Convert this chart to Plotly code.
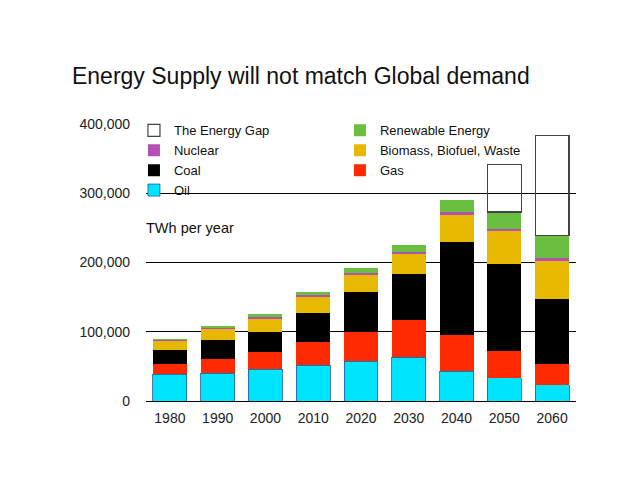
import plotly.graph_objects as go

# Jahre und Werte (TWh pro Jahr)
years = ["1980", "1990", "2000", "2010", "2020", "2030", "2040", "2050", "2060"]
oil = [38500, 40000, 45700, 51500, 57300, 63000, 42800, 33700, 23600]
gas = [14900, 21000, 25000, 33200, 42700, 54000, 53200, 38900, 29400]
coal = [20600, 27000, 28900, 42300, 56800, 66700, 134000, 125400, 93700]
biomass = [14000, 16000, 20200, 23500, 25200, 28300, 39000, 47800, 55800]
nuclear = [500, 2000, 2200, 2500, 3000, 3000, 3700, 3200, 3500]
renewable = [1000, 2700, 3000, 3800, 7000, 11000, 17300, 24000, 32500]
gap = [None, None, None, None, None, None, None, 69000, 144500]

fig = go.Figure()

# Reihenfolge von unten nach oben
series = [
    ("Oil", oil, "#00e5ff", "#1f5aa0", 0.8, "legend"),
    ("Gas", gas, "#ff2a00", "#ff2a00", 0, "legend2"),
    ("Coal", coal, "#000000", "#000000", 0, "legend"),
    ("Biomass, Biofuel, Waste", biomass, "#e6b800", "#e6b800", 0, "legend2"),
    ("Nuclear", nuclear, "#b450b4", "#b450b4", 0, "legend"),
    ("Renewable Energy", renewable, "#6abf40", "#6abf40", 0, "legend2"),
    ("The Energy Gap", gap, "rgba(0,0,0,0)", "#444444", 1.2, "legend"),
]
for name, values, color, line_color, line_width, leg in series:
    fig.add_trace(go.Bar(
        x=years, y=values, name=name, legend=leg,
        marker=dict(color=color, line=dict(color=line_color, width=line_width)),
    ))

# die Seite hat 8px Rand, deshalb alles etwas nach links/oben
fig.update_layout(
    barmode="stack",
    bargap=0.29,
    width=638, height=479,
    margin=dict(l=138, r=70, t=116, b=86),
    paper_bgcolor="white", plot_bgcolor="white",
    font=dict(family="Liberation Sans, Arial, sans-serif", color="#222222", size=14),
    title=dict(text="Energy Supply will not match Global demand",
               x=0.459, xanchor="center", y=0.858, yanchor="middle",
               font=dict(size=23, color="#111111")),
    showlegend=True,
    legend=dict(x=-0.028, y=1.031, xanchor="left", yanchor="top",
                traceorder="reversed", bgcolor="rgba(0,0,0,0)",
                font=dict(size=13, color="#111111")),
    legend2=dict(x=0.451, y=1.031, xanchor="left", yanchor="top",
                 traceorder="reversed", bgcolor="rgba(0,0,0,0)",
                 font=dict(size=13, color="#111111")),
    annotations=[dict(text="TWh per year", xref="paper", yref="paper",
                      x=-0.004, y=0.625, xanchor="left", yanchor="middle",
                      showarrow=False, font=dict(size=14.5, color="#111111"))],
)
fig.update_xaxes(showline=True, linecolor="black", linewidth=1.2,
                 ticks="", tickfont=dict(size=14), ticklabelstandoff=4)
fig.update_yaxes(range=[0, 400000], dtick=100000, tickformat=",d",
                 showgrid=True, gridcolor="black", gridwidth=1,
                 zeroline=False, showline=False, ticks="",
                 tickfont=dict(size=14), ticklabelstandoff=15)

fig.write_html("out.html")
